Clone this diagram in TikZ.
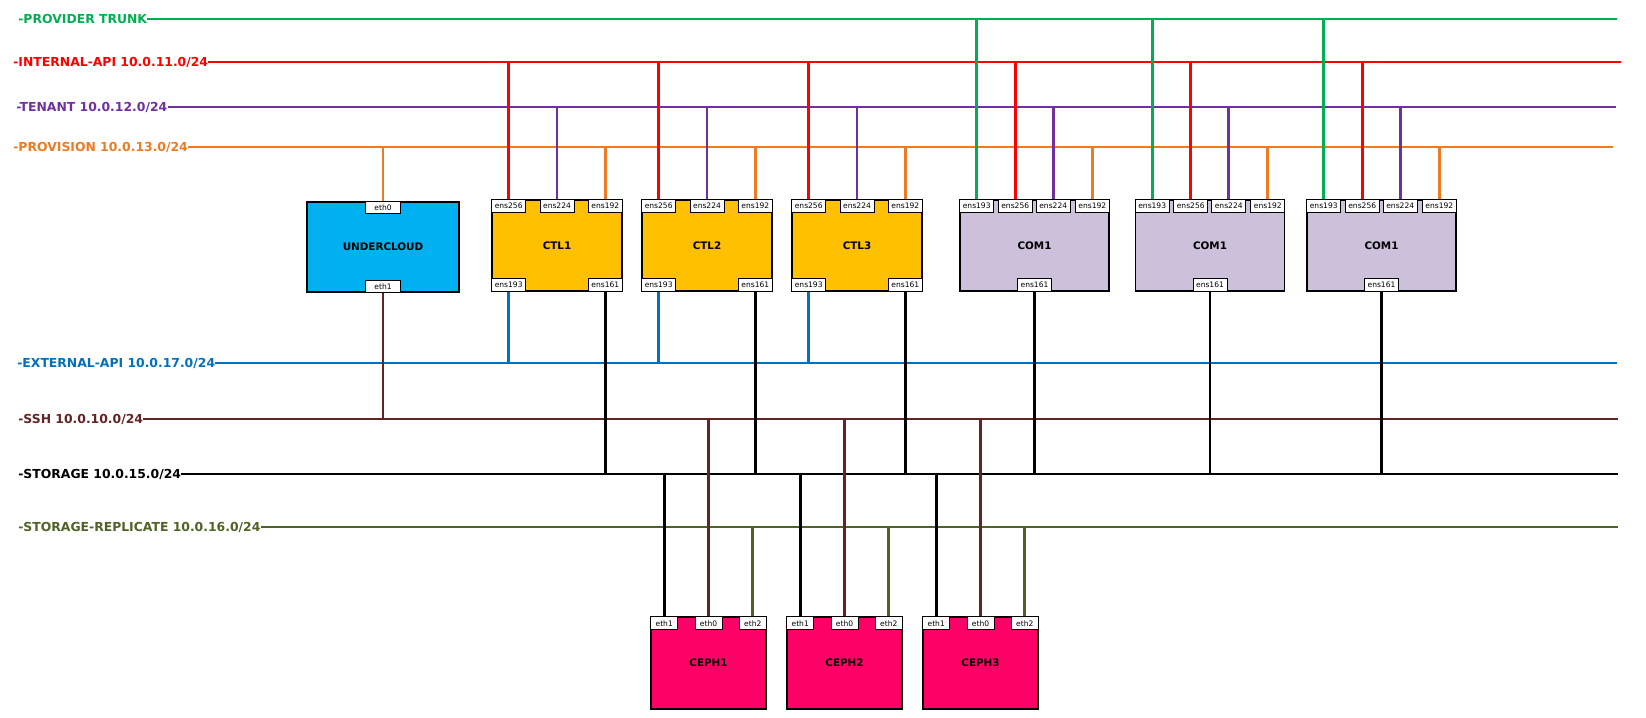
\documentclass[tikz,border=0pt]{standalone}
\usepackage{fontspec}
\setmainfont{DejaVu Sans}
\usetikzlibrary{calc}

\definecolor{cTrunk}{HTML}{00B050}
\definecolor{cInt}{HTML}{FF0000}
\definecolor{cTen}{HTML}{7030A0}
\definecolor{cProv}{HTML}{EE7A22}
\definecolor{cExt}{HTML}{0070C0}
\definecolor{cSsh}{HTML}{632523}
\definecolor{cStor}{HTML}{000000}
\definecolor{cRep}{HTML}{4F6228}
\definecolor{cUnder}{HTML}{00B0F0}
\definecolor{cCtl}{HTML}{FFC000}
\definecolor{cCom}{HTML}{CCC0DA}
\definecolor{cCeph}{HTML}{FF0066}

\begin{document}
\begin{tikzpicture}[x=0.02cm,y=-0.02cm,
  buslbl/.style={anchor=west, inner sep=0pt, text height=5.15pt, text depth=0pt,
                 font=\fontsize{7.05}{8}\selectfont\bfseries},
  busline/.style={line width=1.5pt},
  drop/.style={line width=1.5pt},
  host/.style={draw=black, line width=0.9pt, inner sep=0pt,
               font=\fontsize{5.9}{7}\selectfont\bfseries},
  port/.style={draw=black, fill=white, line width=0.55pt, inner sep=0pt,
               minimum width=0.68cm, minimum height=0.26cm,
               font=\fontsize{4.3}{5}\selectfont},
  eport/.style={port, minimum width=0.54cm},
]
\useasboundingbox (0,0) rectangle (1646,717);

% ---------- network buses ----------
\node[buslbl, text=cTrunk] (trunk) at (18,19) {-PROVIDER TRUNK};
\coordinate (trunk-end) at (1617,19);
\draw[busline, cTrunk] (trunk.east) -- (trunk-end);

\node[buslbl, text=cInt] (int) at (13,62) {-INTERNAL-API 10.0.11.0/24};
\coordinate (int-end) at (1621,62);
\draw[busline, cInt] (int.east) -- (int-end);

\node[buslbl, text=cTen] (ten) at (16,107) {-TENANT 10.0.12.0/24};
\coordinate (ten-end) at (1616,107);
\draw[busline, cTen] (ten.east) -- (ten-end);

\node[buslbl, text=cProv] (prov) at (13,147) {-PROVISION 10.0.13.0/24};
\coordinate (prov-end) at (1613,147);
\draw[busline, cProv] (prov.east) -- (prov-end);

\node[buslbl, text=cExt] (ext) at (17,363) {-EXTERNAL-API 10.0.17.0/24};
\coordinate (ext-end) at (1617,363);
\draw[busline, cExt] (ext.east) -- (ext-end);

\node[buslbl, text=cSsh] (ssh) at (18,419) {-SSH 10.0.10.0/24};
\coordinate (ssh-end) at (1618,419);
\draw[busline, cSsh] (ssh.east) -- (ssh-end);

\node[buslbl, text=cStor] (stor) at (18,474) {-STORAGE 10.0.15.0/24};
\coordinate (stor-end) at (1618,474);
\draw[busline, cStor] (stor.east) -- (stor-end);

\node[buslbl, text=cRep] (rep) at (18,527) {-STORAGE-REPLICATE 10.0.16.0/24};
\coordinate (rep-end) at (1618,527);
\draw[busline, cRep] (rep.east) -- (rep-end);

% ---------- undercloud ----------
\node[host, fill=cUnder, minimum width=3.04cm, minimum height=1.8cm] (under) at (383,247) {UNDERCLOUD};
\node[port, minimum width=0.7cm, minimum height=0.24cm, anchor=north] (under-eth0) at (under.north) {eth0};
\node[port, minimum width=0.7cm, minimum height=0.24cm, anchor=south] (under-eth1) at (under.south) {eth1};
\draw[drop, cProv] (under-eth0.north) -- (under-eth0.north |- prov-end);
\draw[drop, cSsh] (under-eth1.south) -- (under-eth1.south |- ssh-end);

% ---------- controllers ----------
\foreach \n/\x in {1/557,2/707,3/857}{
  \node[host, fill=cCtl, minimum width=2.6cm, minimum height=1.82cm] (ctl\n) at (\x,245.5) {CTL\n};
  \node[port, anchor=north west] (ctl\n-256) at (ctl\n.north west) {ens256};
  \node[port, anchor=north] (ctl\n-224) at (ctl\n.north) {ens224};
  \node[port, anchor=north east] (ctl\n-192) at (ctl\n.north east) {ens192};
  \node[port, anchor=south west] (ctl\n-193) at (ctl\n.south west) {ens193};
  \node[port, anchor=south east] (ctl\n-161) at (ctl\n.south east) {ens161};
  \draw[drop, cInt]  (ctl\n-256.north) -- (ctl\n-256.north |- int-end);
  \draw[drop, cTen]  (ctl\n-224.north) -- (ctl\n-224.north |- ten-end);
  \draw[drop, cProv] (ctl\n-192.north) -- (ctl\n-192.north |- prov-end);
  \draw[drop, cExt]  (ctl\n-193.south) -- (ctl\n-193.south |- ext-end);
  \draw[drop, cStor] (ctl\n-161.south) -- (ctl\n-161.south |- stor-end);
}

% ---------- computes ----------
\foreach \n/\x in {a/1034.5,b/1210,c/1381.5}{
  \node[host, fill=cCom, minimum width=2.98cm, minimum height=1.82cm] (com\n) at (\x,245.5) {COM1};
  \node[port, anchor=north west] (com\n-193) at (com\n.north west) {ens193};
  \node[port, anchor=north] (com\n-256) at ($(com\n.north west)+(56,0)$) {ens256};
  \node[port, anchor=north] (com\n-224) at ($(com\n.north west)+(94,0)$) {ens224};
  \node[port, anchor=north east] (com\n-192) at (com\n.north east) {ens192};
  \node[port, anchor=south] (com\n-161) at (com\n.south) {ens161};
  \draw[drop, cTrunk] (com\n-193.north) -- (com\n-193.north |- trunk-end);
  \draw[drop, cInt]   (com\n-256.north) -- (com\n-256.north |- int-end);
  \draw[drop, cTen]   (com\n-224.north) -- (com\n-224.north |- ten-end);
  \draw[drop, cProv]  (com\n-192.north) -- (com\n-192.north |- prov-end);
  \draw[drop, cStor]  (com\n-161.south) -- (com\n-161.south |- stor-end);
}

% ---------- ceph storage nodes ----------
\foreach \n/\x in {1/708.5,2/844.5,3/980.5}{
  \node[host, fill=cCeph, minimum width=2.3cm, minimum height=1.84cm] (ceph\n) at (\x,663) {CEPH\n};
  \node[eport, anchor=north west] (ceph\n-eth1) at (ceph\n.north west) {eth1};
  \node[eport, anchor=north] (ceph\n-eth0) at (ceph\n.north) {eth0};
  \node[eport, anchor=north east] (ceph\n-eth2) at (ceph\n.north east) {eth2};
  \draw[drop, cStor] (ceph\n-eth1.north) -- (ceph\n-eth1.north |- stor-end);
  \draw[drop, cSsh]  (ceph\n-eth0.north) -- (ceph\n-eth0.north |- ssh-end);
  \draw[drop, cRep]  (ceph\n-eth2.north) -- (ceph\n-eth2.north |- rep-end);
}
\end{tikzpicture}
\end{document}
